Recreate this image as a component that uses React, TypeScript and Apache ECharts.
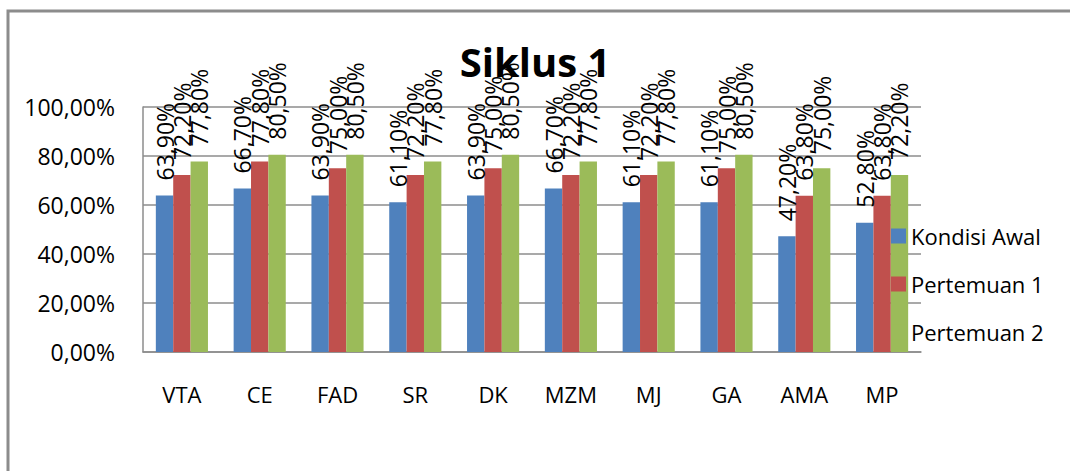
import React, { useEffect, useRef } from "react";
import * as echarts from "echarts";

const categories = ["VTA", "CE", "FAD", "SR", "DK", "MZM", "MJ", "GA", "AMA", "MP"];
const kondisiAwal = [63.9, 66.7, 63.9, 61.1, 63.9, 66.7, 61.1, 61.1, 47.2, 52.8];
const pertemuan1 = [72.2, 77.8, 75.0, 72.2, 75.0, 72.2, 72.2, 75.0, 63.8, 63.8];
const pertemuan2 = [77.8, 80.5, 80.5, 77.8, 80.5, 77.8, 77.8, 80.5, 75.0, 72.2];
const seriesNames = ["Kondisi Awal", "Pertemuan 1", "Pertemuan 2"];
const colors = ["#4F81BD", "#C0504D", "#9BBB59"];

const FONT = "'Open Sans', 'Noto Sans', sans-serif";
const fmt = (v: number) => v.toFixed(2).replace(".", ",") + "%";

export default function App() {
  const ref = useRef<HTMLDivElement>(null);
  useEffect(() => {
    if (!ref.current) return;
    const chart = echarts.init(ref.current, undefined, { renderer: "svg" });
    const mk = (name: string, data: number[], color: string) => ({
      name,
      type: "bar",
      data,
      barGap: "0%",
      barCategoryGap: "33%",
      itemStyle: { color },
      label: {
        show: true,
        position: "top",
        distance: 15,
        rotate: 90,
        align: "left",
        verticalAlign: "middle",
        color: "#000",
        fontFamily: FONT,
        fontSize: 23,
        formatter: (p: any) => fmt(p.value),
      },
    });
    chart.setOption({
      animation: false,
      backgroundColor: "#fff",
      title: {
        text: "Siklus 1",
        left: "center",
        top: 36,
        textStyle: { fontFamily: FONT, fontSize: 40, fontWeight: "bold", color: "#000" },
      },
      legend: {
        orient: "vertical",
        left: 886,
        top: 219,
        itemWidth: 15,
        itemHeight: 15,
        itemGap: 24,
        icon: "rect",
        data: seriesNames,
        textStyle: { fontFamily: FONT, fontSize: 22, color: "#000", lineHeight: 24 },
      },
      grid: { left: 143, right: 149, top: 107, bottom: 119, containLabel: false },
      xAxis: {
        type: "category",
        data: categories,
        axisTick: { show: false },
        axisLine: { lineStyle: { color: "#8c8c8c", width: 1.5 } },
        axisLabel: { margin: 31, fontFamily: FONT, fontSize: 22, color: "#000" },
      },
      yAxis: {
        type: "value",
        min: 0,
        max: 100,
        interval: 20,
        axisLine: { show: true, lineStyle: { color: "#8c8c8c", width: 1.5 } },
        axisTick: { show: false },
        splitLine: { lineStyle: { color: "#8c8c8c", width: 1.5 } },
        axisLabel: { margin: 28, fontFamily: FONT, fontSize: 23, color: "#000", formatter: (v: number) => fmt(v) },
      },
      graphic: [
        {
          type: "rect",
          shape: { x: 8, y: 11, width: 1200, height: 600 },
          style: { fill: "none", stroke: "#8c8c8c", lineWidth: 3 },
          silent: true,
          z: 100,
        },
      ],
      series: [
        mk(seriesNames[0], kondisiAwal, colors[0]),
        mk(seriesNames[1], pertemuan1, colors[1]),
        mk(seriesNames[2], pertemuan2, colors[2]),
      ],
    });
    return () => chart.dispose();
  }, []);
  return (
    <div
      ref={ref}
      style={{ position: "fixed", left: 0, top: 0, width: 1070, height: 471 }}
    />
  );
}
